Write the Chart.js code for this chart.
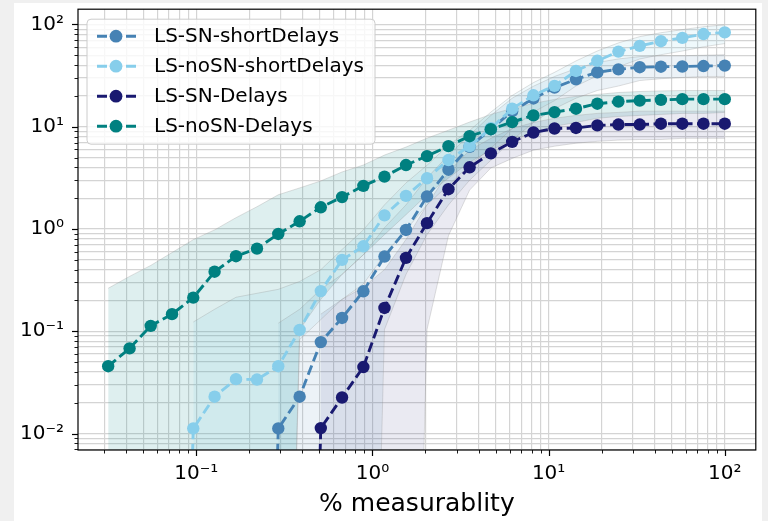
<!DOCTYPE html>
<html>
<head>
<meta charset="utf-8">
<script src="https://cdn.jsdelivr.net/npm/chart.js@4.4.1/dist/chart.umd.min.js"></script>
<style>
  html, body { margin: 0; padding: 0; background: #f0f0f0; }
  #wrap { position: absolute; left: 14px; top: 3px; width: 748px; height: 518px; background: #fff; }
</style>
</head>
<body>
<div id="wrap"><canvas id="measChart"></canvas></div>
<script>
// x values, % measurability (shared by every series)
const measurability = [0.0316, 0.0418, 0.0551, 0.0728, 0.0961, 0.127, 0.168, 0.221, 0.292, 0.386,
  0.509, 0.672, 0.888, 1.17, 1.55, 2.04, 2.70, 3.56, 4.70, 6.21,
  8.20, 10.8, 14.3, 18.9, 24.9, 32.9, 43.4, 57.4, 75.7, 100];

const seriesNames = ['LS-SN-shortDelays', 'LS-noSN-shortDelays', 'LS-SN-Delays', 'LS-noSN-Delays'];
const seriesColors = ['#4682b4', '#87ceeb', '#191970', '#008080'];

// mean curves (0 = nothing measured yet, null = not plotted)
const snShort = [null, null, null, null, null, null, null, 0, 0.0112, 0.0229,
  0.0783, 0.135, 0.246, 0.538, 0.978, 2.08, 3.80, 6.36, 9.46, 14.2,
  18.9, 24.1, 29.1, 34.1, 36.4, 38.2, 38.6, 38.8, 39.2, 39.6];
const noSnShort = [null, null, null, 0, 0.0112, 0.0229, 0.0340, 0.0337, 0.0455, 0.103,
  0.247, 0.499, 0.677, 1.36, 2.11, 3.13, 4.72, 6.46, 9.67, 15.0,
  20.3, 25.1, 35.1, 44.1, 54.3, 61.7, 68.6, 73.9, 80.6, 83.6];
const snDelays = [null, null, null, null, null, null, null, null, null, 0,
  0.0113, 0.0225, 0.0447, 0.169, 0.522, 1.14, 2.45, 4.01, 5.49, 7.11,
  8.78, 9.61, 9.73, 10.3, 10.5, 10.5, 10.7, 10.7, 10.7, 10.7];
const noSnDelays = [0.0455, 0.0680, 0.113, 0.147, 0.213, 0.382, 0.542, 0.643, 0.894, 1.19,
  1.63, 2.05, 2.64, 3.25, 4.22, 5.16, 6.46, 8.08, 9.46, 11.1,
  12.9, 13.9, 15.0, 16.8, 17.6, 18.0, 18.3, 18.6, 18.6, 18.6];

// shaded spread around each curve
const snShortHi = [null, null, null, null, null, null, null, null, 0.12, 0.164,
  0.257, 0.36, 0.56, 1.03, 1.72, 3.15, 5.3, 8.3, 12.9, 19,
  24.9, 31, 37, 42.5, 46, 48.5, 49.5, 49.5, 50, 50.6];
const snShortLo = [null, null, null, null, null, null, null, null, 0, 0,
  0, 0, 0, 0.104, 0.36, 0.88, 1.72, 3.0, 4.7, 7.4,
  11, 15, 19, 22.6, 25, 28.3, 29.5, 30.3, 31, 31];
const noSnShortHi = [null, null, null, null, 0.123, 0.164, 0.215, 0.235, 0.257, 0.307,
  0.40, 0.63, 0.98, 1.72, 2.82, 4.2, 6.6, 9.2, 13.9, 20.2,
  27, 34, 44, 55, 66, 76, 83, 89, 95, 99];
const noSnShortLo = [null, null, null, null, 0, 0, 0, 0, 0, 0.083,
  0.13, 0.205, 0.29, 0.56, 0.98, 1.72, 2.7, 4.2, 6.2, 9.6,
  13.9, 18, 25, 31.5, 38.6, 46, 50.6, 55, 60.5, 65];
const snDelaysHi = [null, null, null, null, null, null, null, null, null, null,
  0.147, 0.205, 0.27, 0.40, 0.79, 1.72, 3.6, 5.9, 7.7, 9.6,
  11, 12.1, 12.9, 13.5, 13.8, 14.2, 14.2, 14.2, 14.2, 14.2];
const snDelaysLo = [null, null, null, null, null, null, null, null, null, null,
  0, 0, 0, 0, 0, 0.104, 0.86, 2.4, 3.95, 4.9,
  5.9, 6.45, 6.9, 7.2, 7.4, 7.5, 7.5, 7.7, 7.7, 7.7];
const noSnDelaysHi = [0.263, 0.344, 0.44, 0.588, 0.787, 0.98, 1.29, 1.65, 2.16, 2.52,
  2.95, 3.61, 4.22, 5.28, 6.32, 7.73, 9.25, 11.1, 13.2, 15.1,
  16.9, 18.5, 19.8, 20.7, 21.6, 22.1, 22.4, 22.6, 22.6, 22.6];
const noSnDelaysLo = [0, 0, 0, 0, 0, 0, 0, 0, 0, 0.104,
  0.205, 0.36, 0.56, 0.88, 1.38, 2.16, 3.15, 4.5, 5.9, 7.4,
  8.8, 10.1, 11.0, 12.1, 12.6, 12.9, 13.2, 13.5, 13.5, 13.8];

const xTickValues = [0.1, 1, 10, 100];
const xTickLabels = ['10⁻¹', '10⁰', '10¹', '10²'];
const yTickValues = [0.01, 0.1, 1, 10, 100];
const yTickLabels = ['10⁻²', '10⁻¹', '10⁰', '10¹', '10²'];
const minorSteps = [1, 2, 3, 4, 5, 6, 7, 8, 9];

const ZERO = 1e-9; // 0 cannot sit on a log axis, push it far below the frame

function toPoints(values) {
  return measurability.map((x, i) => {
    let v = values[i];
    if (v === 0) v = ZERO;
    return {x: x, y: v};
  });
}

function isMajor(v) {
  const l = Math.log10(v);
  return Math.abs(l - Math.round(l)) < 1e-9;
}

function logTicks(scale) {
  const out = [];
  const lo = Math.floor(Math.log10(scale.min));
  const hi = Math.ceil(Math.log10(scale.max));
  for (let k = lo; k <= hi; k++) {
    minorSteps.forEach(m => {
      const v = parseFloat((m * Math.pow(10, k)).toPrecision(6));
      if (v >= scale.min && v <= scale.max) out.push({value: v});
    });
  }
  scale.ticks = out;
}

// fixed axis boxes so the plot frame lands where the reference has it
function fixBox(size, horizontal) {
  return s => {
    if (horizontal) s.height = size; else s.width = size;
    s.paddingTop = 0; s.paddingBottom = 0; s.paddingLeft = 0; s.paddingRight = 0;
  };
}

function lineSet(i, values, order) {
  return {
    label: seriesNames[i],
    data: toPoints(values),
    borderColor: seriesColors[i],
    backgroundColor: seriesColors[i],
    borderWidth: 2.9,
    borderDash: [10, 4.5],
    pointRadius: 6.2,
    pointBorderWidth: 0,
    pointBackgroundColor: seriesColors[i],
    tension: 0,
    fill: false,
    order: order
  };
}

function bandSet(i, values, fill, alpha) {
  const c = seriesColors[i];
  const r = parseInt(c.slice(1, 3), 16), g = parseInt(c.slice(3, 5), 16), b = parseInt(c.slice(5, 7), 16);
  return {
    label: seriesNames[i] + ' band',
    data: toPoints(values),
    borderColor: 'rgba(150,150,150,0.3)',
    borderWidth: 1,
    backgroundColor: 'rgba(' + r + ',' + g + ',' + b + ',' + alpha + ')',
    pointRadius: 0,
    tension: 0,
    fill: fill,
    order: 10
  };
}

const framePlugin = {
  id: 'framePlugin',
  afterDraw(chart) {
    const ctx = chart.ctx;
    const a = chart.chartArea;
    const xs = chart.scales.x, ys = chart.scales.y;
    ctx.save();
    ctx.strokeStyle = '#000';
    ctx.lineWidth = 1.2;
    ctx.strokeRect(a.left, a.top, a.right - a.left, a.bottom - a.top);
    xs.ticks.forEach(t => {
      const px = Math.round(xs.getPixelForValue(t.value)) + 0.5;
      const len = isMajor(t.value) ? 6 : 3.5;
      ctx.lineWidth = isMajor(t.value) ? 1.2 : 0.9;
      ctx.beginPath(); ctx.moveTo(px, a.bottom); ctx.lineTo(px, a.bottom + len); ctx.stroke();
    });
    ys.ticks.forEach(t => {
      const py = Math.round(ys.getPixelForValue(t.value)) + 0.5;
      const len = isMajor(t.value) ? 6 : 3.5;
      ctx.lineWidth = isMajor(t.value) ? 1.2 : 0.9;
      ctx.beginPath(); ctx.moveTo(a.left, py); ctx.lineTo(a.left - len, py); ctx.stroke();
    });

    // legend box in the upper left corner
    const x0 = a.left + 9, y0 = a.top + 10, w = 288, h = 125;
    ctx.beginPath();
    ctx.roundRect(x0, y0, w, h, 4);
    ctx.fillStyle = 'rgba(255,255,255,0.8)';
    ctx.fill();
    ctx.strokeStyle = '#cccccc';
    ctx.lineWidth = 1;
    ctx.stroke();
    ctx.font = '20px "DejaVu Sans"';
    ctx.textBaseline = 'middle';
    ctx.textAlign = 'left';
    seriesNames.forEach((name, i) => {
      const y = y0 + 17 + i * 30;
      ctx.strokeStyle = seriesColors[i];
      ctx.lineWidth = 2.9;
      ctx.setLineDash([10, 4.5]);
      ctx.beginPath(); ctx.moveTo(x0 + 10, y); ctx.lineTo(x0 + 50, y); ctx.stroke();
      ctx.setLineDash([]);
      ctx.fillStyle = seriesColors[i];
      ctx.beginPath(); ctx.arc(x0 + 29, y, 6.4, 0, Math.PI * 2); ctx.fill();
      ctx.fillStyle = '#000';
      ctx.fillText(name, x0 + 67, y + 1);
    });
    ctx.restore();
  }
};

Chart.defaults.font.family = '"DejaVu Sans", sans-serif';

new Chart(document.getElementById('measChart'), {
  type: 'line',
  data: {
    datasets: [
      lineSet(0, snShort, 4),
      lineSet(1, noSnShort, 3),
      lineSet(2, snDelays, 2),
      lineSet(3, noSnDelays, 1),
      bandSet(3, noSnDelaysHi, '+1', 0.13),
      bandSet(3, noSnDelaysLo, false, 0.13),
      bandSet(1, noSnShortHi, '+1', 0.13),
      bandSet(1, noSnShortLo, false, 0.13),
      bandSet(0, snShortHi, '+1', 0.1),
      bandSet(0, snShortLo, false, 0.1),
      bandSet(2, snDelaysHi, '+1', 0.09),
      bandSet(2, snDelaysLo, false, 0.09)
    ]
  },
  options: {
    responsive: true,
    maintainAspectRatio: false,
    animation: false,
    events: [],
    layout: {padding: {left: 0, right: 3, top: 4, bottom: 0}},
    plugins: {
      legend: {display: false},
      tooltip: {enabled: false},
      filler: {drawTime: 'beforeDatasetsDraw'}
    },
    scales: {
      x: {
        type: 'logarithmic',
        min: 0.0213,
        max: 150,
        bounds: 'data',
        afterBuildTicks: logTicks,
        afterFit: fixBox(71, true),
        grid: {color: '#d4d4d4', lineWidth: 1.2, drawTicks: false},
        border: {display: false},
        ticks: {
          autoSkip: false,
          maxRotation: 0,
          padding: 12,
          color: '#000',
          font: {size: 20},
          callback: v => {
            const i = xTickValues.findIndex(t => Math.abs(t - v) / t < 1e-6);
            return i < 0 ? '' : xTickLabels[i];
          }
        },
        title: {
          display: true,
          text: '% measurablity',
          color: '#000',
          font: {size: 25},
          padding: {top: 0, bottom: 2}
        }
      },
      y: {
        type: 'logarithmic',
        min: 0.0069,
        max: 141,
        bounds: 'data',
        afterBuildTicks: logTicks,
        afterFit: fixBox(64, false),
        grid: {color: '#d4d4d4', lineWidth: 1.2, drawTicks: false},
        border: {display: false},
        ticks: {
          autoSkip: false,
          padding: 14,
          color: '#000',
          font: {size: 20},
          callback: v => {
            const i = yTickValues.findIndex(t => Math.abs(t - v) / t < 1e-6);
            return i < 0 ? '' : yTickLabels[i];
          }
        }
      }
    }
  },
  plugins: [framePlugin]
});
</script>
</body>
</html>
